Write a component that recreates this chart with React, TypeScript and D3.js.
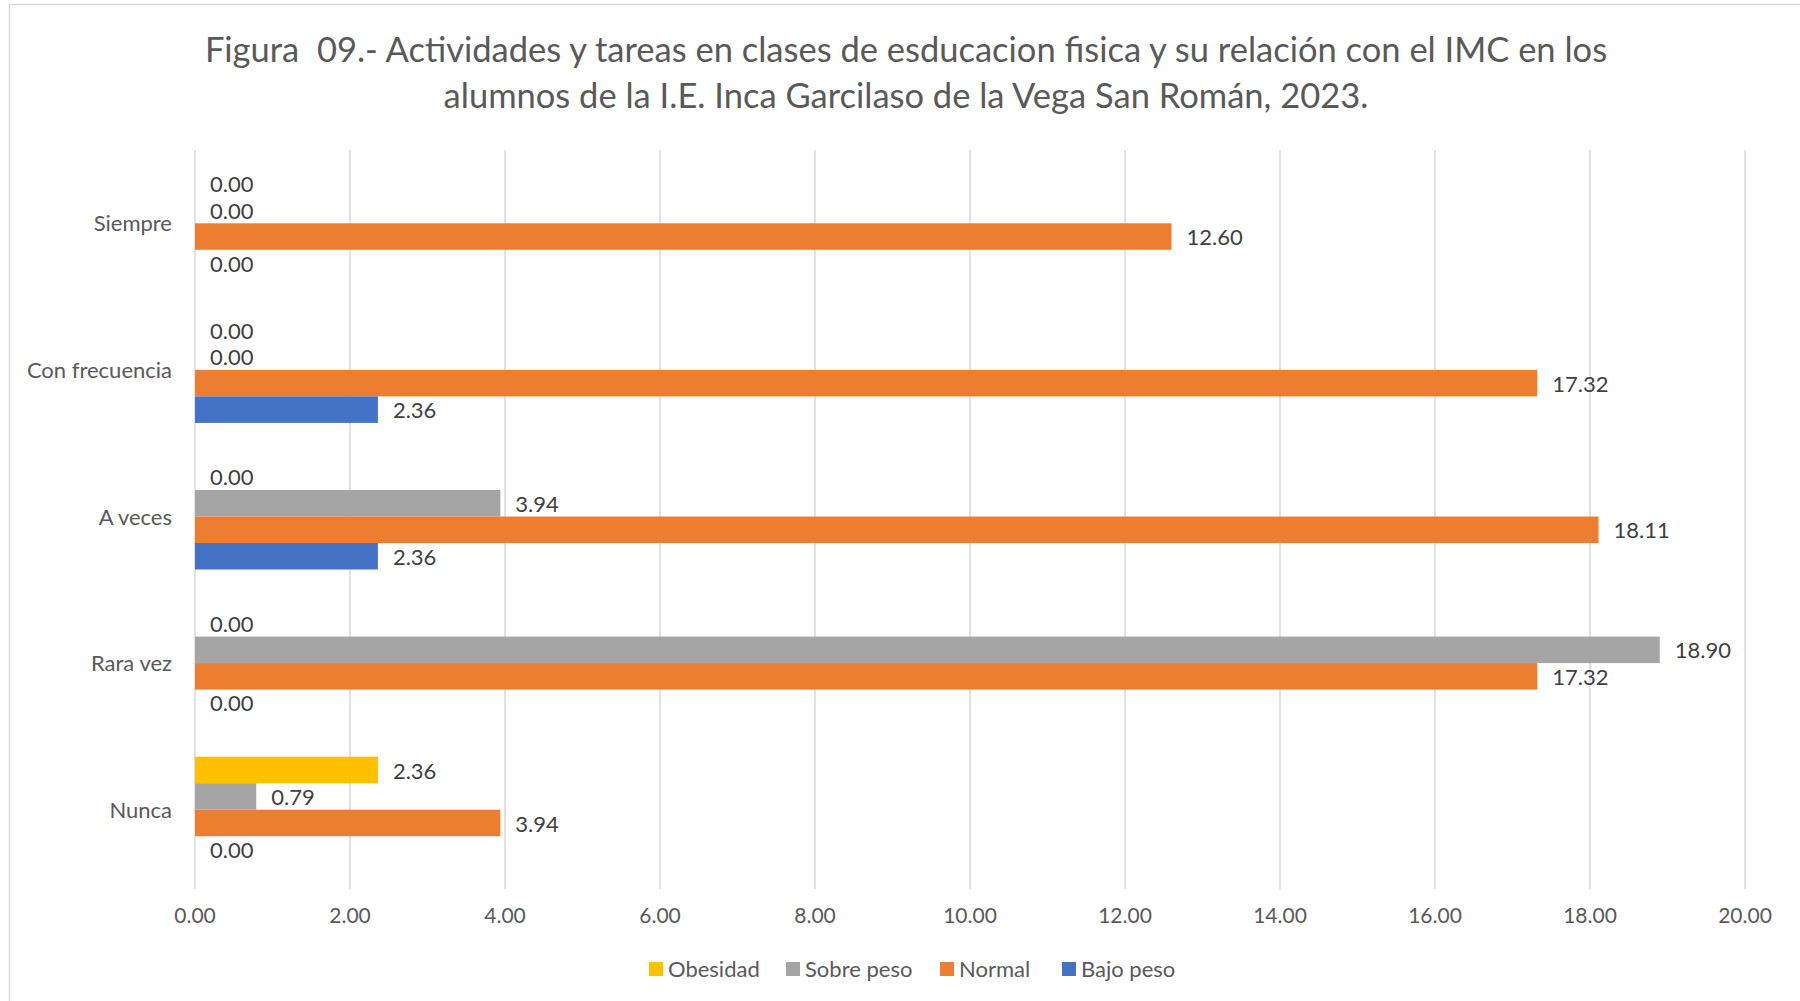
import React from "react";
import * as d3 from "d3";

const categories = ["Siempre", "Con frecuencia", "A veces", "Rara vez", "Nunca"];
const seriesNames = ["Obesidad", "Sobre peso", "Normal", "Bajo peso"];
const obesidad = [0.0, 0.0, 0.0, 0.0, 2.36];
const sobrePeso = [0.0, 0.0, 3.94, 18.9, 0.79];
const normal = [12.6, 17.32, 18.11, 17.32, 3.94];
const bajoPeso = [0.0, 2.36, 2.36, 0.0, 0.0];
const seriesValues = [obesidad, sobrePeso, normal, bajoPeso];
const seriesColors = ["#FFC000", "#A5A5A5", "#ED7D31", "#4472C4"];
const xTicks = [0, 2, 4, 6, 8, 10, 12, 14, 16, 18, 20];
const titleLines = [
  "Figura  09.- Actividades y tareas en clases de esducacion fisica y su relación con el IMC en los",
  "alumnos de la I.E. Inca Garcilaso de la Vega San Román, 2023.",
];

const W = 1800;
const H = 1001;
const FONT = "Lato, 'Open Sans', sans-serif";
const plot = { left: 195, right: 1745, top: 150, bottom: 883 };
const legendX = [649, 786, 940, 1062];

export default function App() {
  const x = d3.scaleLinear().domain([0, 20]).range([plot.left, plot.right]);
  const y = d3
    .scaleBand<string>()
    .domain(categories)
    .range([plot.top, plot.bottom])
    .paddingInner(0.277)
    .paddingOuter(0.1385);
  const sub = d3
    .scaleBand<string>()
    .domain(seriesNames)
    .range([0, y.bandwidth()]);

  return (
    <svg
      width={W}
      height={H}
      style={{ position: "absolute", left: 0, top: 0, background: "#fff" }}
      fontFamily={FONT}
    >
      <rect x={0} y={0} width={W} height={H} fill="#fff" />
      <rect x={9.5} y={4.5} width={W + 10} height={H + 10} fill="none" stroke="#d9d9d9" strokeWidth={1.5} />
      {titleLines.map((t, i) => (
        <text
          key={i}
          x={906}
          y={53 + i * 46}
          textAnchor="middle"
          dominantBaseline="middle"
          fontSize={34.5}
          fill="#595959"
          style={{ whiteSpace: "pre" }}
        >
          {t}
        </text>
      ))}
      {xTicks.map((t) => (
        <g key={t}>
          <line
            x1={x(t)}
            x2={x(t)}
            y1={plot.top}
            y2={plot.bottom + 6}
            stroke="#d9d9d9"
            strokeWidth={1.5}
          />
          <text
            x={x(t)}
            y={918}
            textAnchor="middle"
            dominantBaseline="middle"
            fontSize={21}
            fill="#595959"
          >
            {d3.format(".2f")(t)}
          </text>
        </g>
      ))}
      {categories.map((c) => (
        <text
          key={c}
          x={172}
          y={(y(c) as number) + y.bandwidth() / 2 + 2.5}
          textAnchor="end"
          dominantBaseline="middle"
          fontSize={22}
          fill="#595959"
        >
          {c}
        </text>
      ))}
      {seriesNames.map((s, si) =>
        categories.map((c, ci) => {
          const v = seriesValues[si][ci];
          const by = (y(c) as number) + (sub(s) as number);
          return (
            <g key={s + c}>
              {v > 0 && (
                <rect
                  x={x(0)}
                  y={by}
                  width={x(v) - x(0)}
                  height={sub.bandwidth()}
                  fill={seriesColors[si]}
                />
              )}
              <text
                x={x(v) + 15}
                y={by + sub.bandwidth() / 2 + 3}
                dominantBaseline="middle"
                fontSize={22}
                fill="#404040"
              >
                {d3.format(".2f")(v)}
              </text>
            </g>
          );
        })
      )}
      {seriesNames.map((s, si) => (
        <g key={s}>
          <rect x={legendX[si]} y={962} width={14} height={14} fill={seriesColors[si]} />
          <text
            x={legendX[si] + 19}
            y={971}
            dominantBaseline="middle"
            fontSize={22}
            fill="#595959"
          >
            {s}
          </text>
        </g>
      ))}
    </svg>
  );
}
